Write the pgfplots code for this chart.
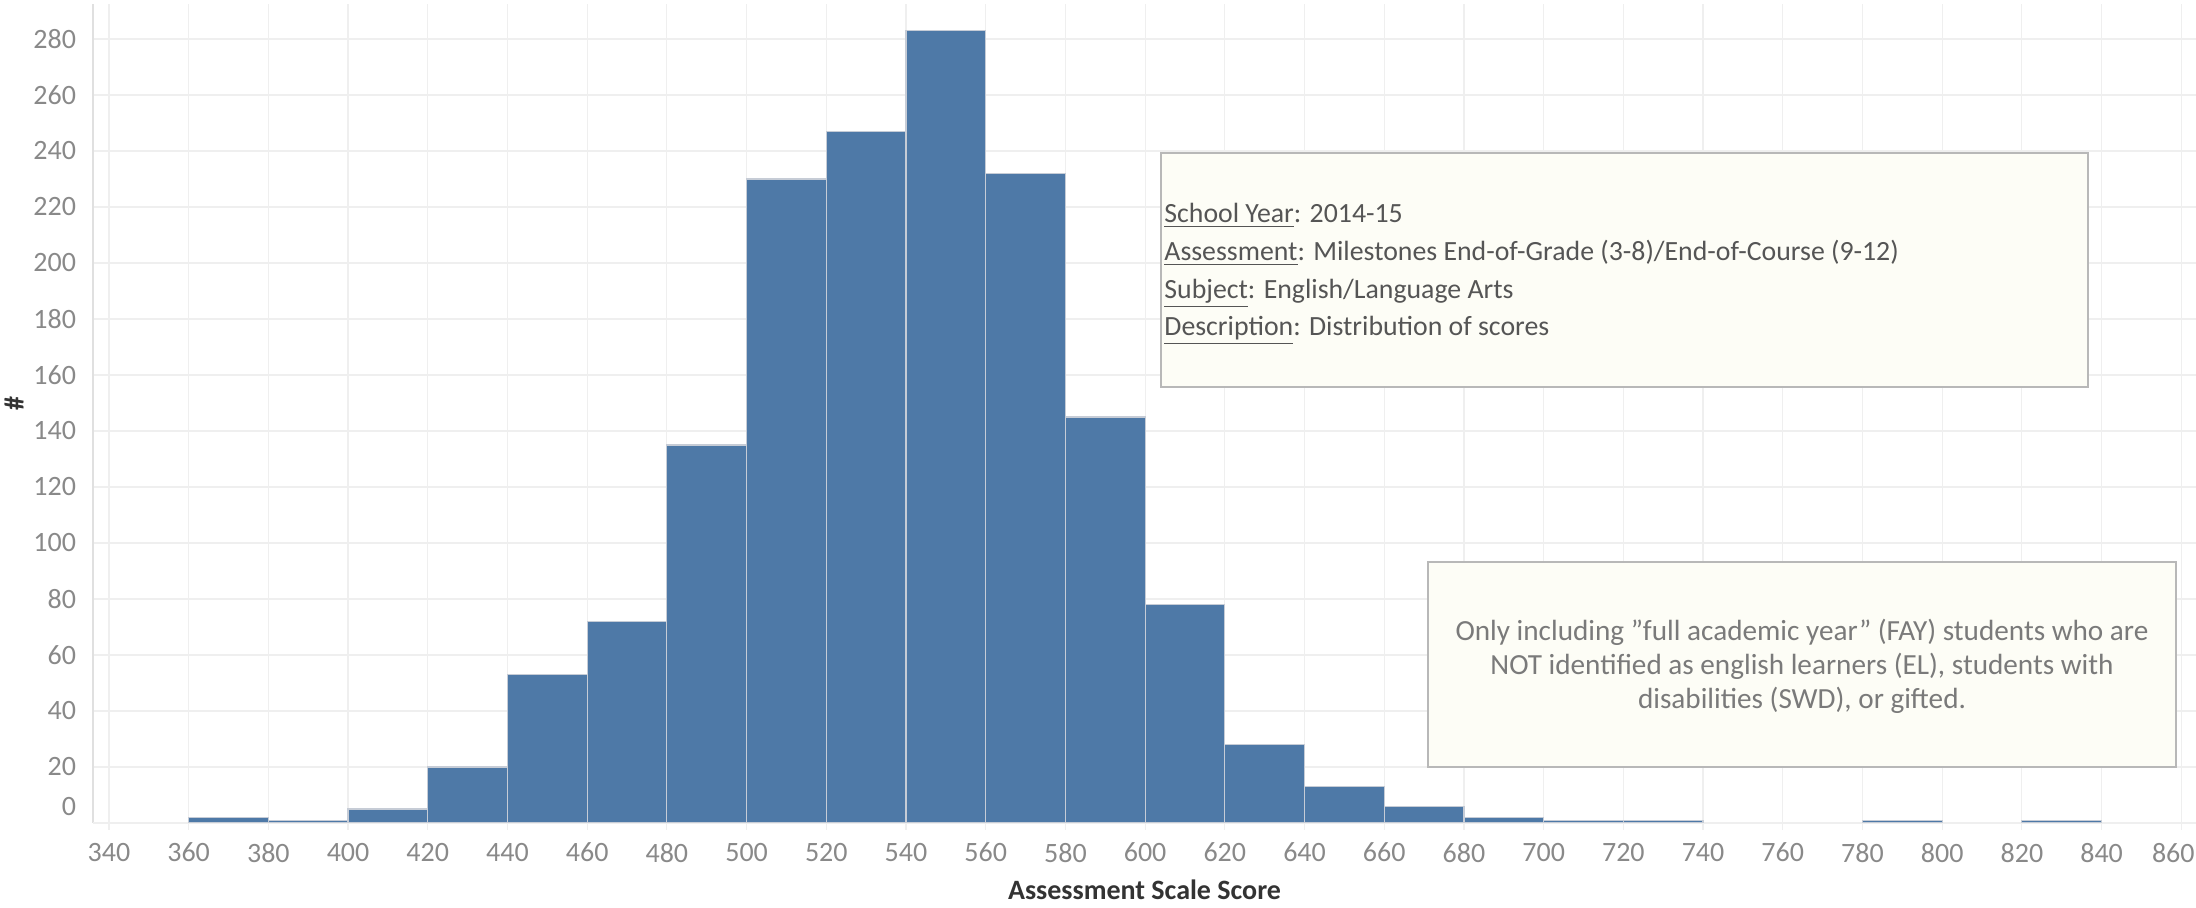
\documentclass[border=0pt]{standalone}
\usepackage{fontspec}
\setmainfont{Carlito}
\usepackage{pgfplots}
\pgfplotsset{compat=1.18}
\definecolor{barblue}{HTML}{4E79A7}
\definecolor{baredge}{HTML}{C6CCD6}
\definecolor{gridc}{HTML}{EFEFEF}
\definecolor{axisc}{HTML}{E0E0E0}
\definecolor{tickc}{HTML}{898989}
\definecolor{titlec}{HTML}{333333}
\definecolor{notefill}{HTML}{FDFDF6}
\definecolor{noteline}{HTML}{B8B8B8}
\definecolor{notetext}{HTML}{555555}
\definecolor{notetextb}{HTML}{7A7A7A}

\begin{document}
\begin{tikzpicture}
\begin{axis}[
    at={(0,0)}, anchor=south west,
    scale only axis, width=1051.5pt, height=409.5pt,
    xmin=336, xmax=863.7, ymin=0, ymax=292.5,
    axis x line=bottom, axis y line=left,
    axis line style={draw=axisc, line width=0.6pt, -},
    xtick={340,360,...,840}, ytick={20,40,...,280},
    extra x ticks={860},
    extra x tick style={xticklabel style={xshift=-4pt}},
    extra y ticks={0},
    extra y tick style={yticklabel style={yshift=8.25pt}},
    grid=major, major grid style={draw=gridc, line width=0.6pt},
    tick align=outside, major tick length=3.3pt,
    xtick style={draw=gridc, line width=0.6pt},
    ytick style={draw=none},
    ticklabel style={font=\fontsize{14}{16}\selectfont, text=tickc},
    /pgf/number format/assume math mode=true,
    /pgf/number format/1000 sep={},
    xticklabel style={anchor=north, inner sep=0pt, yshift=-6.5pt},
    yticklabel style={anchor=east, inner sep=0pt, xshift=-5pt},
    xlabel={Assessment Scale Score},
    xlabel style={font=\bfseries\fontsize{14}{16}\selectfont, text=titlec,
        at={(axis description cs:0.5,-0.0818)}, anchor=center},
    ylabel={\#},
    ylabel style={font=\bfseries\fontsize{14}{16}\selectfont, text=titlec,
        at={(axis description cs:-0.0375,0.512)}, anchor=center},
    ybar, bar width=20, bar shift=0pt,
]
% counts per 20-point bin (bin centres)
\addplot[fill=barblue, draw=baredge, line width=0.6pt] coordinates {
    (370,2) (390,1) (410,5) (430,20) (450,53) (470,72)
    (490,135) (510,230) (530,247) (550,283) (570,232) (590,145)
    (610,78) (630,28) (650,13) (670,6) (690,2) (710,1) (730,1)
    (790,1) (830,1)
};
\end{axis}

% info box
\draw[fill=notefill, draw=noteline, line width=0.7pt] (534pt,218pt) rectangle (997.5pt,335pt);
\begin{scope}[every node/.style={anchor=base west, inner sep=0pt, text=notetext,
    font=\fontsize{13.9}{17}\selectfont}]
\node at (535.5pt,300pt) {\underline{School Year}: 2014-15};
\node at (535.5pt,281pt) {\underline{Assessment}: Milestones End-of-Grade (3-8)/End-of-Course (9-12)};
\node at (535.5pt,262pt) {\underline{Subject}: English/Language Arts};
\node at (535.5pt,243.5pt) {\underline{Description}: Distribution of scores};
\end{scope}

% note box
\draw[fill=notefill, draw=noteline, line width=0.7pt] (667.5pt,28pt) rectangle (1041.5pt,130.5pt);
\begin{scope}[every node/.style={anchor=base, inner sep=0pt, text=notetextb,
    font=\fontsize{14.6}{17}\selectfont}]
\node at (854.5pt,91.3pt) {Only including ”full academic year” (FAY) students who are};
\node at (854.5pt,74.3pt) {NOT identified as english learners (EL), students with};
\node at (854.5pt,57.3pt) {disabilities (SWD), or gifted.};
\end{scope}

\pgfresetboundingbox
\path[use as bounding box] (-46.5pt,-42.5pt) rectangle (1051.5pt,411.5pt);
\end{tikzpicture}
\end{document}
